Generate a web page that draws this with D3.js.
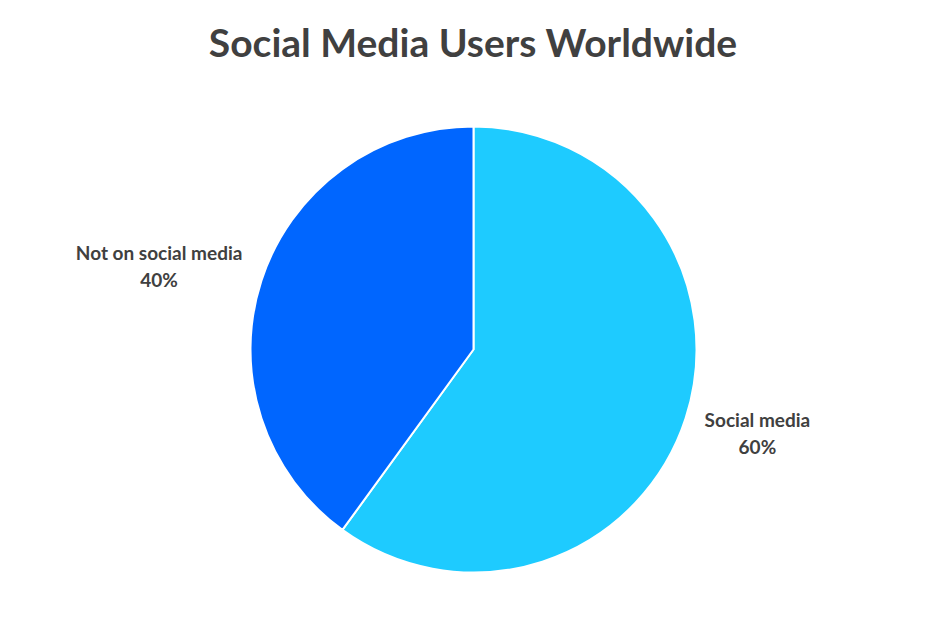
<!DOCTYPE html>
<html><head><meta charset="utf-8">
<script src="https://cdn.jsdelivr.net/npm/d3@7"></script>
<style>body{margin:0;background:#fff;} svg{display:block;}</style>
</head><body>
<svg id="chart" width="947" height="628"></svg>
<script>
const categories = ["Social media", "Not on social media"];
const values = [60, 40];
const labels = ["60%", "40%"];
const colors = ["#1ECBFF", "#0066FF"];

const svg = d3.select("#chart");
const W = 947, H = 628;
const FONT = "Lato, 'Open Sans', sans-serif";
svg.append("rect").attr("width", W).attr("height", H).attr("fill", "#fff");

svg.append("text").attr("x", 473).attr("y", 57).attr("text-anchor", "middle")
  .attr("font-family", FONT).attr("font-weight", "bold")
  .attr("font-size", 39).attr("fill", "#404040").text("Social Media Users Worldwide");

const cx = 473.5, cy = 349.5, r = 223;
const data = categories.map((c, i) => ({cat: c, value: values[i], label: labels[i], color: colors[i]}));
const pie = d3.pie().value(d => d.value).sort(null);
const arc = d3.arc().innerRadius(0).outerRadius(r);
const g = svg.append("g").attr("transform", `translate(${cx},${cy})`);
const arcs = pie(data);
g.selectAll("path").data(arcs).join("path")
  .attr("d", arc).attr("fill", d => d.data.color)
  .attr("stroke", "#fff").attr("stroke-width", 2).attr("stroke-linejoin", "round");

const labelArc = d3.arc().innerRadius(r + 20).outerRadius(r + 20);
const lg = g.selectAll("g.lbl").data(arcs).join("g").attr("class", "lbl");
lg.append("text").attr("class", "l1").attr("text-anchor", "middle").attr("y", -6)
  .attr("font-family", FONT).attr("font-weight", "bold")
  .attr("font-size", 19).attr("fill", "#404040").text(d => d.data.cat);
lg.append("text").attr("class", "l2").attr("text-anchor", "middle").attr("y", 21)
  .attr("font-family", FONT).attr("font-weight", "bold")
  .attr("font-size", 19).attr("fill", "#404040").text(d => d.data.label);
lg.attr("transform", function(d) {
  const [x, y] = labelArc.centroid(d);
  const w = this.querySelector(".l1").getComputedTextLength();
  const mid = (d.startAngle + d.endAngle) / 2;
  const side = Math.sin(mid) >= 0 ? 1 : -1;
  return `translate(${x + side * w / 2},${y * 1.09 + side * 1.5})`;
});
</script>
</body></html>
